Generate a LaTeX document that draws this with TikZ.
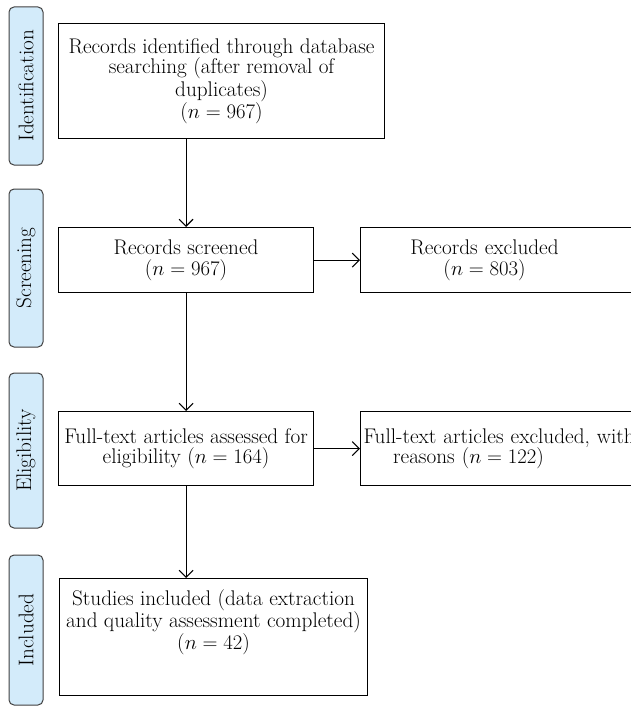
\documentclass[tikz,border=0pt]{standalone}
\usepackage{tikz}
\usetikzlibrary{
    arrows.meta,
    calc,
    positioning
}
\definecolor{stagecol}{HTML}{D3EBFA}

\begin{document}
\begin{tikzpicture}[x=1pt, y=-1pt,
        >={Straight Barb[length=7pt, width=14pt]},
        every node/.style={font=\fontsize{21.2}{20.5}\selectfont},
        box/.style={draw, line width=1.1pt, align=center, inner sep=2pt, anchor=north west},
        stage/.style={draw=black!75, fill=stagecol, line width=1pt, rounded corners=5pt,
            rotate=90, minimum height=34pt, inner sep=0pt},
        flow/.style={line width=1.1pt}]
                        \useasboundingbox (0, 0) rectangle (631, 709);

                        % stages on the left
                        \node[stage, minimum width=158pt] (sId) at (26, 86) {Identification};
                        \node[stage, minimum width=158pt] (sSc) at (26, 268) {Screening};
                        \node[stage, minimum width=155pt] (sEl) at (26, 450.5) {Eligibility};
                        \node[stage, minimum width=150pt] (sIn) at (26, 630) {Included};

                        % flow boxes
                        \node[box, minimum width=326pt, minimum height=115pt] (ident) at (58, 23)
                            {Records identified through database\\ searching (after removal of\\ duplicates)\\ ($n = 967$)};
                        \node[box, minimum width=255pt, minimum height=65pt] (screen) at (58, 227)
                            {Records screened\\ ($n = 967$)};
                        \node[box, text width=284pt, align=left, inner xsep=3pt, minimum height=65pt] (excl) at (360, 227)
                            {\parbox{242pt}{\centering Records excluded\\ ($n = 803$)}};
                        \node[box, minimum width=255pt, minimum height=74pt] (elig) at (58, 411)
                            {Full-text articles assessed for\\ eligibility ($n = 164$)};
                        \node[box, text width=284pt, align=left, inner xsep=3pt, minimum height=74pt] (ftexcl) at (360, 411)
                            {\parbox{210pt}{\centering \mbox{Full-text articles excluded, with}\\ reasons ($n = 122$)}};
                        \node[box, minimum width=308pt, minimum height=117pt] (incl) at (59, 578)
                            {Studies included (data extraction\\ and quality assessment completed)\\ ($n = 42$)\\[14pt]};

                        \draw[flow]
                        (ident.south -| screen.north) edge[->] (screen.north)
                        (screen.east) edge[->] (excl.west)
                        (screen.south) edge[->] (elig.north)
                        (elig.east) edge[->] (ftexcl.west)
                        (elig.south) edge[->] (elig.south |- incl.north);
                    \end{tikzpicture}
\end{document}
